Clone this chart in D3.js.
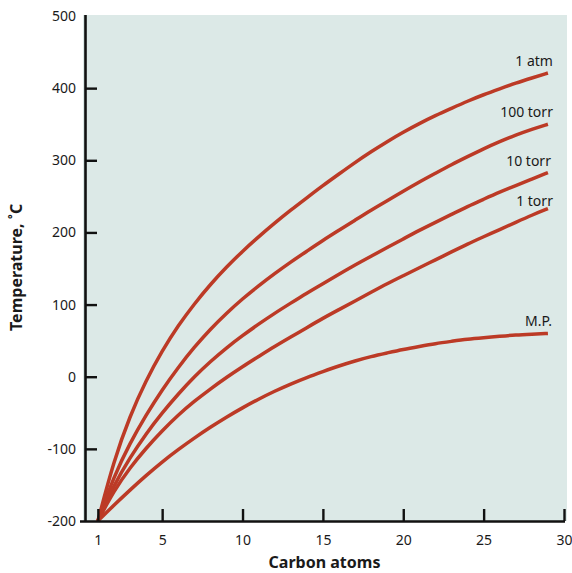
<!DOCTYPE html>
<html>
<head>
<meta charset="utf-8">
<script src="https://cdn.jsdelivr.net/npm/d3@7"></script>
<style>
  html, body { margin: 0; padding: 0; background: #fff; }
  svg { display: block; font-family: "Noto Sans", "Open Sans", sans-serif; }
</style>
</head>
<body>
<div id="chart"></div>
<script>
// Carbon atoms (x) shared by every curve
const carbons = [1, 2, 3, 4, 5, 6, 7, 8, 9, 10, 11, 12, 13, 14, 15,
                 16, 17, 18, 19, 20, 21, 22, 23, 24, 25, 26, 27, 28, 29];

// Temperature, deg C
const atm1    = [-200, -116, -54, -5, 36, 71, 101, 128, 152, 174, 194, 213, 231, 248, 265,
                 281, 297, 312, 326, 339, 351, 362, 372, 382, 391, 399, 407, 414, 421];
const torr100 = [-200, -138, -92, -53, -18, 13, 41, 66, 88, 108, 126, 143, 159, 174, 189,
                 203, 217, 231, 244, 257, 270, 282, 294, 305, 316, 326, 335, 343, 350];
const torr10  = [-200, -150, -112, -79, -50, -24, 0, 21, 40, 57, 73, 88, 102, 116, 129,
                 142, 155, 167, 179, 191, 203, 214, 225, 236, 246, 256, 265, 274, 283];
const torr1   = [-200, -158, -126, -99, -75, -53, -34, -17, -1, 14, 28, 42, 55, 68, 81,
                 93, 105, 117, 129, 140, 151, 162, 173, 184, 194, 204, 214, 224, 233];
const meltPt  = [-200, -178, -157, -137, -118, -101, -85, -70, -56, -43, -31, -20, -10, -1, 7,
                 15, 22, 28, 33, 38, 42, 46, 49, 52, 54, 56, 58, 59, 60];

const seriesNames = ["1 atm", "100 torr", "10 torr", "1 torr", "M.P."];
const seriesValues = [atm1, torr100, torr10, torr1, meltPt];

const xTicks = [1, 5, 10, 15, 20, 25, 30];
const yTicks = [-200, -100, 0, 100, 200, 300, 400, 500];

// label nudges relative to the curve end (layout only)
const labelDx = [5, 5, 3, 5, 4];
const labelDy = [-6.5, -7, -7, -3, -7];

const W = 572, H = 573;
const plotLeft = 85, plotRight = 564, plotTop = 16, plotBottom = 521;

const svg = d3.select("#chart").append("svg")
    .attr("width", W)
    .attr("height", H);

const x = d3.scaleLinear().domain([0.2, 30]).range([plotLeft, plotRight]);
const y = d3.scaleLinear().domain([-200, 500]).range([plotBottom, plotTop]);

// plot background
svg.append("rect")
    .attr("x", 83)
    .attr("y", 15)
    .attr("width", 567 - 83)
    .attr("height", plotBottom - 15)
    .attr("fill", "#dce9e7");

// curves
const line = d3.line()
    .x((d, i) => x(carbons[i]))
    .y(d => y(d))
    .curve(d3.curveBasis);

svg.append("g").selectAll("path")
    .data(seriesValues)
    .join("path")
    .attr("fill", "none")
    .attr("stroke", "#bc3a26")
    .attr("stroke-width", 3.5)
    .attr("d", line);

// curve labels
svg.append("g").selectAll("text")
    .data(seriesValues)
    .join("text")
    .attr("x", (d, i) => x(carbons[carbons.length - 1]) + labelDx[i])
    .attr("y", (d, i) => y(d[d.length - 1]) + labelDy[i])
    .attr("text-anchor", "end")
    .attr("font-size", 14)
    .attr("fill", "#1a1a1a")
    .text((d, i) => seriesNames[i]);

// y axis (plain hyphen for negatives, like the original)
const yAxis = svg.append("g")
    .attr("transform", `translate(${plotLeft},0)`)
    .call(d3.axisLeft(y).tickValues(yTicks).tickFormat(d => String(d))
        .tickSize(-12).tickSizeOuter(0).tickPadding(9));
yAxis.select(".domain").attr("stroke", "#111").attr("stroke-width", 2.6)
    .attr("d", `M0.5,${plotTop - 1}V${plotBottom}`);
yAxis.selectAll(".tick line").attr("stroke", "#111").attr("stroke-width", 2.4)
    .filter(d => d === 500 || d === -200).remove();
yAxis.selectAll(".tick text").attr("font-size", 14).attr("fill", "#1a1a1a");

// x axis
const xAxis = svg.append("g")
    .attr("transform", `translate(0,${plotBottom})`)
    .call(d3.axisBottom(x).tickValues(xTicks).tickSize(-12).tickSizeOuter(0).tickPadding(14));
xAxis.select(".domain").attr("stroke", "#111").attr("stroke-width", 2.6)
    .attr("d", `M80,0.5H${plotRight + 1}`);
xAxis.selectAll(".tick line").attr("stroke", "#111").attr("stroke-width", 2.4);
xAxis.selectAll(".tick text").attr("font-size", 14).attr("fill", "#1a1a1a");

// let the svg font apply to the axes
svg.selectAll("g").attr("font-family", null);

// axis titles
svg.append("text")
    .attr("x", (plotLeft + plotRight) / 2)
    .attr("y", 568)
    .attr("text-anchor", "middle")
    .attr("font-size", 16)
    .attr("font-weight", "bold")
    .attr("fill", "#1a1a1a")
    .text("Carbon atoms");

svg.append("text")
    .attr("transform", `translate(22,331) rotate(-90)`)
    .attr("text-anchor", "start")
    .attr("font-size", 16)
    .attr("font-weight", "bold")
    .attr("fill", "#1a1a1a")
    .text("Temperature, ˚C");
</script>
</body>
</html>
